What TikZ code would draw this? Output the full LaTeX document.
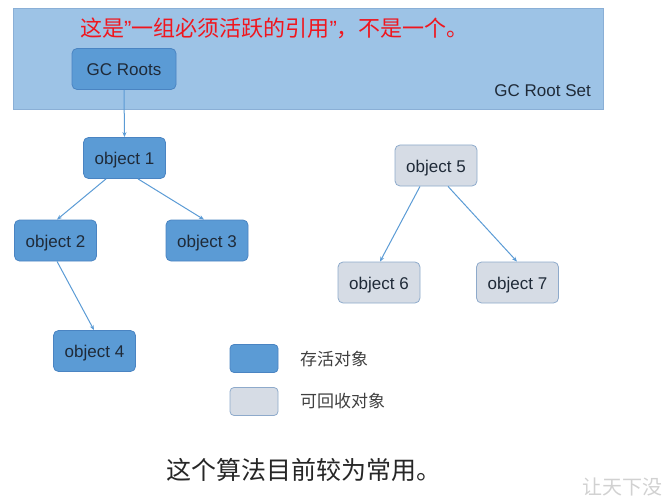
\documentclass[tikz,border=0pt]{standalone}
\usepackage{fontspec}
\setmainfont{Liberation Sans}
\newfontfamily\cjk{Noto Sans CJK SC}
\newfontfamily\latinq{Liberation Sans}
\usetikzlibrary{arrows.meta}
\definecolor{setfill}{HTML}{9DC3E6}
\definecolor{setdraw}{HTML}{8AAFD6}
\definecolor{livefill}{HTML}{5B9BD5}
\definecolor{livedraw}{HTML}{4A84C2}
\definecolor{deadfill}{HTML}{D6DCE5}
\definecolor{deaddraw}{HTML}{8EAACB}
\definecolor{arrowc}{HTML}{5B9BD5}
\definecolor{txt}{HTML}{1F2A38}
\definecolor{redtxt}{HTML}{F0161E}
\tikzset{
  livebox/.style={draw=livedraw, fill=livefill, rounded corners=5pt, line width=0.8pt,
    minimum width=82pt, minimum height=41pt, inner sep=0pt, text=txt,
    text height=14.5pt, text depth=1pt, font=\fontsize{17}{20}\selectfont},
  deadbox/.style={livebox, draw=deaddraw, fill=deadfill},
  link/.style={draw=arrowc, line width=1pt, -{Stealth[length=5pt,width=4pt]}},
  legbox/.style={rounded corners=4pt, line width=0.8pt, minimum width=48pt, minimum height=28pt, inner sep=0pt},
  legtext/.style={anchor=west, inner sep=0pt, text=black!75, font=\cjk\fontsize{17}{20}\selectfont},
}
\begin{document}
\begin{tikzpicture}[x=1pt,y=-1pt]
\useasboundingbox (0,0) rectangle (671,497);
\clip (0,0) rectangle (671,497);
\node[draw=setdraw, fill=setfill, line width=1pt, minimum width=590pt, minimum height=101pt, inner sep=0pt] (set) at (308.5,59.5) {};
\node[anchor=east, inner sep=0pt, text=txt, font=\fontsize{17}{20}\selectfont] (setlbl) at (591,91) {GC Root Set};
\node[anchor=west, inner sep=0pt, text=redtxt, font=\cjk\fontsize{22}{26}\selectfont] (note) at (80,28) {这是{\latinq ”}一组必须活跃的引用{\latinq ”}，不是一个。};
\node[livebox, minimum width=104pt] (roots) at (124,69) {GC Roots};
\node[livebox] (o1) at (124.5,158) {object 1};
\node[livebox] (o2) at (55.5,240.5) {object 2};
\node[livebox] (o3) at (207,240.5) {object 3};
\node[livebox] (o4) at (94.5,351) {object 4};
\node[deadbox] (o5) at (436,165.5) {object 5};
\node[deadbox] (o6) at (379,282.5) {object 6};
\node[deadbox] (o7) at (517.5,282.5) {object 7};
\draw[link] (roots.south) -- (o1.north);
\draw[link] ([xshift=-18.5pt]o1.south) -- ([xshift=1.5pt]o2.north);
\draw[link] ([xshift=13.5pt]o1.south) -- ([xshift=-3pt]o3.north);
\draw[link] ([xshift=1.5pt]o2.south) -- ([xshift=-0.5pt]o4.north);
\draw[link] ([xshift=-16pt]o5.south) -- ([xshift=1pt]o6.north);
\draw[link] ([xshift=12pt]o5.south) -- ([xshift=-0.5pt]o7.north);
\node[legbox, draw=livedraw, fill=livefill] (leglive) at (254,358.5) {};
\node[legbox, draw=deaddraw, fill=deadfill] (legdead) at (254,401.5) {};
\node[legtext] (leglivetxt) at (300,359) {存活对象};
\node[legtext] (legdeadtxt) at (300,401) {可回收对象};
\node[anchor=west, inner sep=0pt, text=black!85, font=\cjk\fontsize{25}{30}\selectfont] (bottom) at (166,470) {这个算法目前较为常用。};
\node[anchor=west, inner sep=0pt, text=black!18, font=\cjk\fontsize{20}{24}\selectfont] (wm) at (582,487) {让天下没};
\end{tikzpicture}
\end{document}
